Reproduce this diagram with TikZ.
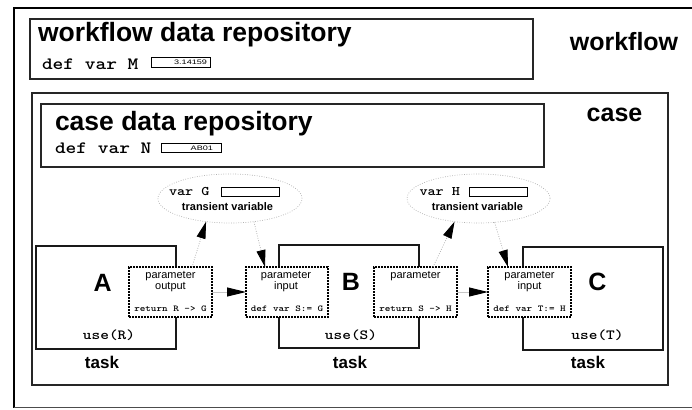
\documentclass[tikz,border=0pt]{standalone}
\usepackage{fontspec}
\setmainfont{Liberation Sans}
\newfontfamily\codefont{lmmonolt10-bold.otf}[FakeStretch=1.18]
\newfontfamily\valfont{Liberation Sans}[FakeStretch=1.4]
\usetikzlibrary{arrows.meta,shapes.geometric}

\newcommand\fs[1]{\fontsize{#1}{#1}\selectfont}

\begin{document}
\begin{tikzpicture}[x=1pt,y=-1pt,
  every node/.style={inner sep=0pt,outer sep=0pt},
  framebox/.style={draw=black!85,line width=1.2pt,rectangle},
  taskbox/.style={draw=black!90,line width=1.2pt,rectangle,minimum width=140pt,minimum height=103pt},
  parambox/.style={draw=black,fill=white,line width=1.1pt,dash pattern=on 1.6pt off 1.4pt,
                   rectangle,minimum width=83pt,minimum height=50pt},
  transient/.style={ellipse,draw=gray!60,line width=0.7pt,dash pattern=on 0.8pt off 1.6pt,
                    minimum height=49pt},
  valbox/.style={draw=black,line width=0.8pt,rectangle},
  valtext/.style={font=\valfont\fs{6.5},anchor=east},
  title/.style={font=\fs{26.5}\bfseries,anchor=base west},
  label/.style={font=\fs{25}\bfseries,anchor=base},
  letter/.style={font=\fs{25}\bfseries,anchor=base},
  tasklabel/.style={font=\fs{17}\bfseries,anchor=base},
  code/.style={font=\codefont\fs{#1},anchor=base west},
  usecode/.style={font=\codefont\fs{14},anchor=base},
  smallcode/.style={font=\codefont\fs{9},anchor=base},
  ptext/.style={font=\fs{11},anchor=base},
  ttext/.style={font=\fs{11}\bfseries,anchor=base},
  flow/.style={draw=gray!45,line width=1pt,-{Triangle[length=19pt,width=9pt,color=black]}},
  varflow/.style={draw=gray!60,line width=0.8pt,dash pattern=on 0.8pt off 1.6pt,
                  -{Triangle[length=17pt,width=9pt,color=black]}}
]
\useasboundingbox (0,0) rectangle (692,409);

% outer workflow frame (runs off the right edge)
\draw[line width=2.7pt,black] (700,8) -- (14,8) -- (14,407.8);
\draw[line width=1.3pt,black!70] (14,407.8) -- (700,407.8);

% workflow level
\node[framebox,minimum width=503pt,minimum height=60pt] (wfrepo) at (281.5,49) {};
\node[title] (wftitle) at (38,41.5) {workflow data repository};
\node[code=17.3] (defM) at (42,69.3) {def var M};
\node[valbox,minimum width=59pt,minimum height=10pt] (Mbox) at (180.5,62) {};
\node[valtext] (Mval) at ([xshift=-3pt]Mbox.east) {3.14159};
\node[label] (wflabel) at (624,50.7) {workflow};

% case level
\node[framebox,minimum width=636pt,minimum height=292pt] (casebox) at (350,239) {};
\node[framebox,minimum width=503pt,minimum height=63pt] (caserepo) at (292.5,135.5) {};
\node[title] (casetitle) at (55,130) {case data repository};
\node[code=17.3] (defN) at (55,153) {def var N};
\node[valbox,minimum width=60pt,minimum height=9pt] (Nbox) at (191,148) {};
\node[valtext] (Nval) at ([xshift=-8pt]Nbox.east) {AB01};
\node[label] (caselabel) at (614.5,121.7) {case};

% transient variables
\node[transient,minimum width=144pt] (G) at (230,198.5) {};
\node[code=13.1] (varG) at (169,195) {var G};
\node[valbox,minimum width=58pt,minimum height=9pt] (Gbox) at (250,191.5) {};
\node[ttext] (Gtxt) at (227.5,210) {transient variable};

\node[transient,minimum width=143pt] (H) at (478.5,198.5) {};
\node[code=13.1] (varH) at (419.5,195.7) {var H};
\node[valbox,minimum width=58pt,minimum height=8.5pt] (Hbox) at (498,192) {};
\node[ttext] (Htxt) at (477.5,210) {transient variable};

% tasks
\node[taskbox] (taskA) at (106,297.5) {};
\node[taskbox] (taskB) at (349,296.5) {};
\node[taskbox] (taskC) at (593,298.5) {};

\node[letter] (lA) at (102.7,291.7) {A};
\node[letter] (lB) at (351,290) {B};
\node[letter] (lC) at (597.5,290) {C};
\node[usecode] (uR) at (109,339) {use(R)};
\node[usecode] (uS) at (351,339) {use(S)};
\node[usecode] (uT) at (597.5,339) {use(T)};
\node[tasklabel] (tA) at (102,368) {task};
\node[tasklabel] (tB) at (350,368) {task};
\node[tasklabel] (tC) at (588,368) {task};

% parameter boxes
\node[parambox] (PA) at (170.5,292) {};
\node[parambox,minimum width=82pt] (PBin) at (287,292) {};
\node[parambox] (PBout) at (415.5,292) {};
\node[parambox] (PCin) at (529.5,292) {};

\node[ptext] (PAt1) at (170.5,278.5) {parameter};
\node[ptext] (PAt2) at (170.5,289) {output};
\node[smallcode] (PAc) at (170.5,311) {return R -> G};

\node[ptext] (PBt1) at (286,278.5) {parameter};
\node[ptext] (PBt2) at (286,289) {input};
\node[smallcode] (PBc) at (287,311) {def var S:= G};

\node[ptext] (PBo1) at (415.5,278.5) {parameter};
\node[smallcode] (PBoc) at (415.5,311) {return S -> H};

\node[ptext] (PCt1) at (529.5,278.5) {parameter};
\node[ptext] (PCt2) at (529.5,289.5) {input};
\node[smallcode] (PCc) at (529.5,311) {def var T:= H};

% data flow between parameter boxes
\draw[flow] (PA.east) -- (PBin.west);
\draw[flow] (PBout.east) -- (PCin.west);

% flow through the transient variables
\draw[varflow] ([xshift=21.5pt]PA.north) -- (G.224);
\draw[varflow] (G.316) -- ([xshift=-22pt]PBin.north);
\draw[varflow] ([xshift=17.5pt]PBout.north) -- (H.224);
\draw[varflow] (H.304) -- ([xshift=-21.5pt]PCin.north);
\end{tikzpicture}
\end{document}
